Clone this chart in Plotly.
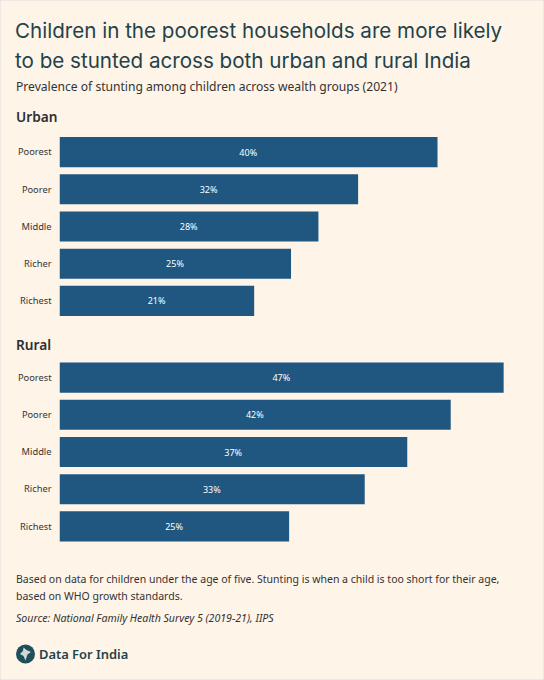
import plotly.graph_objects as go
from plotly.subplots import make_subplots

W = 544
H = 680

wealth_groups = ["Poorest", "Poorer", "Middle", "Richer", "Richest"]
urban_values = [40.0, 31.6, 27.4, 24.5, 20.6]
rural_values = [47.0, 41.4, 36.8, 32.3, 24.3]
urban_labels = ["40%", "32%", "28%", "25%", "21%"]
rural_labels = ["47%", "42%", "37%", "33%", "25%"]

BG = "#fef4e8"
BAR = "#1f5781"
TITLE = "#1f434b"
TEXT = "#333333"
BODY_FONT = "Noto Sans"
TITLE_FONT = "Inter"


def py(y):
    # pixels from the top to paper coordinates
    return 1 - y / H


fig = make_subplots(rows=2, cols=1)

for row, values, labels in [(1, urban_values, urban_labels), (2, rural_values, rural_labels)]:
    fig.add_trace(
        go.Bar(
            x=values,
            y=wealth_groups,
            orientation="h",
            text=labels,
            textposition="inside",
            insidetextanchor="middle",
            textangle=0,
            textfont=dict(family=BODY_FONT, size=9, color="#ffffff"),
            marker=dict(color=BAR, line=dict(width=0)),
            hoverinfo="skip",
            showlegend=False,
        ),
        row=row, col=1,
    )

fig.update_xaxes(domain=[59.5 / W, 1], range=[0, 51.27], visible=False, fixedrange=True)
fig.update_yaxes(
    autorange="reversed",
    showgrid=False,
    zeroline=False,
    showline=False,
    ticks="",
    ticklabelstandoff=7,
    tickfont=dict(family=BODY_FONT, size=9.3, color=TEXT),
)
fig.update_yaxes(domain=[py(319.5), py(133.5)], row=1, col=1)
fig.update_yaxes(domain=[py(545), py(359)], row=2, col=1)
fig.update_layout(bargap=0.19)


def note(text, x, y, size, color=TEXT, family=BODY_FONT, weight=None):
    fig.add_annotation(
        text=text, x=(x - 2) / W, y=py(y), xref="paper", yref="paper",
        xanchor="left", yanchor="middle", showarrow=False, align="left",
        font=dict(family=family, size=size, color=color, weight=weight),
    )


note("Children in the poorest households are more likely", 15, 31, 20.6, TITLE, TITLE_FONT)
note("to be stunted across both urban and rural India", 15, 60, 20.6, TITLE, TITLE_FONT)
note("Prevalence of stunting among children across wealth groups (2021)", 15.5, 86, 12.1)
note("Urban", 15.5, 116, 13.7, "#2f2f2f", weight=600)
note("Rural", 15.5, 344, 13.7, "#2f2f2f", weight=600)
note("Based on data for children under the age of five. Stunting is when a child is too short for their age,", 16, 579, 10.5)
note("based on WHO growth standards.", 16, 596, 10.5)
note("<i>Source: National Family Health Survey 5 (2019-21), IIPS</i>", 16, 618, 10.6)
note("Data For India", 39, 654, 12.9, TITLE, weight=600)

shapes = [
    # logo disc
    dict(type="circle", xref="paper", yref="paper",
         x0=16 / W, x1=35 / W, y0=py(663.5), y1=py(644.5),
         fillcolor="#1f4f5c", line=dict(width=0)),
    # rough outline of the map in the logo
    dict(type="path", xref="paper", yref="paper",
         path="M %f %f L %f %f L %f %f L %f %f L %f %f L %f %f L %f %f L %f %f Z" % (
             23.5 / W, py(647.5), 26.5 / W, py(650), 31 / W, py(652), 27.5 / W, py(654.5),
             25.5 / W, py(660.5), 23.5 / W, py(656), 20 / W, py(654), 23 / W, py(651)),
         fillcolor="#cfd9d6", line=dict(width=0)),
    # thin frame around the card
    dict(type="rect", xref="paper", yref="paper", x0=0, x1=1, y0=0, y1=1,
         fillcolor="rgba(0,0,0,0)", line=dict(color="#dcdcdc", width=1)),
]

fig.update_layout(
    width=W,
    height=H,
    margin=dict(l=0, r=0, t=0, b=0),
    paper_bgcolor=BG,
    plot_bgcolor=BG,
    shapes=shapes,
)

fig.write_html("out.html", post_script="document.body.style.margin='0';", config=dict(displayModeBar=False))
